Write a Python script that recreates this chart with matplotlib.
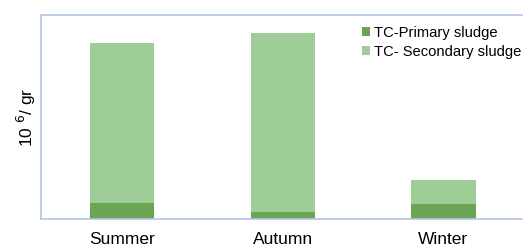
import matplotlib.pyplot as plt

# Data (arbitrary units, axis has no ticks)
seasons = ["Summer", "Autumn", "Winter"]
primary = [1.6, 0.7, 1.5]
secondary = [16.0, 17.9, 2.4]

plt.rcParams['font.family'] = ['Liberation Sans', 'DejaVu Sans']

fig = plt.figure(figsize=(5.23, 2.49), dpi=100)
ax = fig.add_axes([41 / 523, 1 - 219 / 249, 490 / 523, 204 / 249])

x = range(len(seasons))
ax.bar(x, primary, width=0.4, color="#6aa555", label="TC-Primary sludge")
ax.bar(x, secondary, width=0.4, bottom=primary, color="#9fcd98",
       label="TC- Secondary sludge")

ax.set_xlim(-0.505, 2.545)
ax.set_ylim(0, 20.4)
ax.set_yticks([])
ax.set_xticks(list(x))
ax.set_xticklabels(seasons, fontsize=12.5)
ax.tick_params(axis='x', length=0, pad=9)
for s in ax.spines.values():
    s.set_color("#b4c7e7")
    s.set_linewidth(1.2)
ax.spines['right'].set_visible(False)

ax.set_ylabel("10 $^{6}$/ gr", fontsize=12.5, labelpad=2)

ax.legend(loc="upper left", bbox_to_anchor=(312 / 490, 0.99), frameon=False,
          fontsize=10.6, handlelength=0.55, handleheight=0.55, handletextpad=0.3,
          labelspacing=0.32, borderaxespad=0.2)

fig.savefig("out.png", dpi=100)
